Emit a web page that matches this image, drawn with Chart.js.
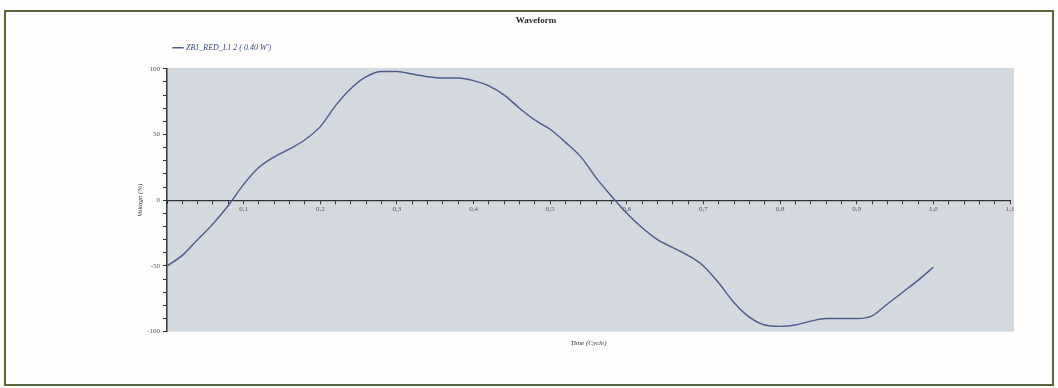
<!DOCTYPE html>
<html>
<head>
<meta charset="utf-8">
<script src="https://cdn.jsdelivr.net/npm/chart.js@4"></script>
<style>
  html, body { margin: 0; padding: 0; background: #fdfdfc; }
  #wrap { position: absolute; left: 0; top: 0; width: 1058px; height: 388px; }
</style>
</head>
<body>
<div id="wrap"><canvas id="c" width="1058" height="388"></canvas></div>
<script>
const chartTitle = "Waveform";
const seriesName = "ZB1_RED_L1 2 ( 0.40 W')";
const xAxisTitle = "Time (Cycle)";
const yAxisTitle = "Voltage (%)";

const times = [0, 0.02, 0.04, 0.06, 0.08, 0.10, 0.12, 0.14, 0.16, 0.18,
               0.20, 0.22, 0.24, 0.26, 0.28, 0.30, 0.32, 0.34, 0.36, 0.38,
               0.40, 0.42, 0.44, 0.46, 0.48, 0.50, 0.52, 0.54, 0.56, 0.58,
               0.60, 0.62, 0.64, 0.66, 0.68, 0.70, 0.72, 0.74, 0.76, 0.78,
               0.80, 0.82, 0.84, 0.86, 0.88, 0.90, 0.92, 0.94, 0.96, 0.98, 1.00];
const voltage = [-50, -42, -30, -18, -4, 12, 25, 33, 39, 46,
                 56, 72, 85, 94, 98, 98, 96, 94, 93, 93,
                 91, 87, 80, 70, 61, 54, 44, 33, 17, 3,
                 -10, -21, -30, -36, -42, -50, -63, -78, -89, -95,
                 -96, -95, -92, -90, -90, -90, -88, -79, -70, -61, -51];

const xMin = 0, xMax = 1.1, xMinorStep = 0.02;
const yMin = -100, yMax = 100, yMinorStep = 10;

const points = times.map((t, i) => ({ x: t, y: voltage[i] }));

const decor = {
  id: 'decor',
  beforeDraw(chart) {
    const { ctx, chartArea: a } = chart;
    ctx.save();
    ctx.fillStyle = '#d4d8df';
    ctx.fillRect(a.left, a.top - 1, a.right - a.left + 4, a.bottom - a.top + 1);
    ctx.strokeStyle = '#56683a';
    ctx.lineWidth = 2;
    ctx.strokeRect(5, 11, 1048, 374);
    ctx.restore();
    if (chart.legend) {
      const w = chart.legend.right - chart.legend.left;
      const h = chart.legend.bottom - chart.legend.top;
      chart.legend.left = 157;
      chart.legend.right = 157 + w;
      chart.legend.top -= 7;
      chart.legend.bottom = chart.legend.top + h;
    }
    if (chart.titleBlock) {
      chart.titleBlock.left -= 24;
      chart.titleBlock.right -= 24;
    }
  }
};

const serif = "'Liberation Serif', 'DejaVu Serif', serif";

new Chart(document.getElementById('c'), {
  type: 'line',
  data: {
    datasets: [{
      label: seriesName,
      data: points,
      borderColor: '#4b5b8c',
      backgroundColor: '#4b5b8c',
      borderWidth: 1.4,
      pointRadius: 0,
      tension: 0.4,
      cubicInterpolationMode: 'monotone',
      fill: false
    }]
  },
  plugins: [decor],
  options: {
    responsive: false,
    animation: false,
    layout: { padding: { left: 110, right: 48, top: 12, bottom: 40 } },
    plugins: {
      title: {
        display: true,
        text: chartTitle,
        color: '#2a2a2a',
        font: { family: serif, size: 9, weight: 'bold' },
        padding: { top: 3, bottom: 8 }
      },
      legend: {
        display: true,
        align: 'start',
        labels: {
          usePointStyle: true,
          pointStyle: 'line',
          boxWidth: 10,
          padding: 17,
          color: '#3c4a78',
          font: { family: serif, size: 8, style: 'italic' }
        }
      },
      tooltip: { enabled: false }
    },
    scales: {
      x: {
        type: 'linear',
        position: { y: 0 },
        min: xMin, max: xMax,
        grid: { drawOnChartArea: false, drawTicks: true, tickLength: 3, color: '#333', tickWidth: 1 },
        border: { display: true, color: '#333', width: 1.2 },
        ticks: {
          stepSize: xMinorStep,
          autoSkip: false,
          maxRotation: 0,
          padding: 2,
          color: '#555',
          font: { family: serif, size: 7 },
          callback: (v) => {
            const k = Math.round(v * 50);
            if (k === 0 || k % 5 !== 0) return '';
            return (k / 50).toFixed(1).replace('.', ',');
          }
        }
      },
      x2: {
        type: 'linear',
        axis: 'x',
        position: 'bottom',
        min: xMin, max: xMax,
        grid: { display: false, drawTicks: false, tickLength: 0 },
        border: { display: false },
        ticks: { display: false },
        title: {
          display: true,
          text: xAxisTitle,
          color: '#333',
          font: { family: serif, size: 7, style: 'italic' },
          padding: { top: 7, bottom: 1 }
        }
      },
      y: {
        type: 'linear',
        position: 'left',
        min: yMin, max: yMax,
        afterFit: (s) => { s.width = 57; },
        grid: { drawOnChartArea: false, drawTicks: true, tickLength: 4, color: '#333' },
        border: { display: true, color: '#333', width: 1.5 },
        ticks: {
          stepSize: yMinorStep,
          autoSkip: false,
          padding: 3,
          color: '#555',
          font: { family: serif, size: 7 },
          callback: (v) => (Math.round(v) % 50 === 0 ? String(Math.round(v)) : '')
        },
        title: {
          display: true,
          text: yAxisTitle,
          color: '#333',
          font: { family: serif, size: 7, style: 'italic' },
          padding: { top: 26, bottom: 0 }
        }
      }
    }
  }
});
</script>
</body>
</html>
